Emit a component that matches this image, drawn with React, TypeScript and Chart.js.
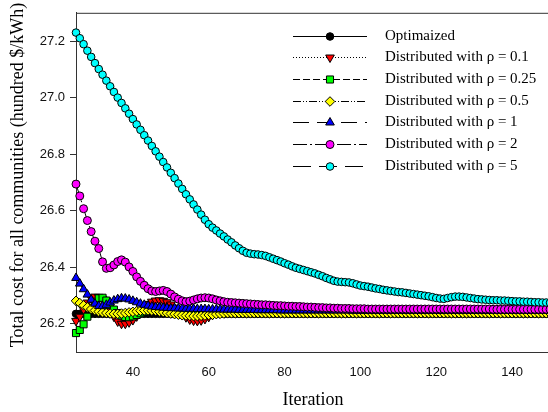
import React, { useEffect, useRef } from 'react';
import { Chart, registerables } from 'chart.js';
import { drawPoint } from 'chart.js/helpers';

Chart.register(...registerables);

// ---------------- data ----------------
const firstIteration = 25;

const optimized = [
  26.235, 26.235, 26.235, 26.235, 26.235, 26.235, 26.235, 26.235, 26.235, 26.235,
  26.235, 26.235, 26.235, 26.235, 26.235, 26.235, 26.235, 26.235, 26.235, 26.235,
  26.235, 26.235, 26.235, 26.235, 26.235, 26.235, 26.235, 26.235, 26.235, 26.235,
  26.235, 26.235, 26.235, 26.235, 26.235, 26.235, 26.235, 26.235, 26.235, 26.235,
  26.235, 26.235, 26.235, 26.235, 26.235, 26.235, 26.235, 26.235, 26.235, 26.235,
  26.235, 26.235, 26.235, 26.235, 26.235, 26.235, 26.235, 26.235, 26.235, 26.235,
  26.235, 26.235, 26.235, 26.235, 26.235, 26.235, 26.235, 26.235, 26.235, 26.235,
  26.235, 26.235, 26.235, 26.235, 26.235, 26.235, 26.235, 26.235, 26.235, 26.235,
  26.235, 26.235, 26.235, 26.235, 26.235, 26.235, 26.235, 26.235, 26.235, 26.235,
  26.235, 26.235, 26.235, 26.235, 26.235, 26.235, 26.235, 26.235, 26.235, 26.235,
  26.235, 26.235, 26.235, 26.235, 26.235, 26.235, 26.235, 26.235, 26.235, 26.235,
  26.235, 26.235, 26.235, 26.235, 26.235, 26.235, 26.235, 26.235, 26.235, 26.235,
  26.235, 26.235, 26.235, 26.235, 26.235, 26.235,
];

const rho01 = [
  26.210, 26.225, 26.250, 26.275, 26.290, 26.296, 26.295, 26.288, 26.270, 26.248,
  26.225, 26.208, 26.200, 26.200, 26.205, 26.213, 26.226, 26.242, 26.258, 26.270,
  26.278, 26.282, 26.283, 26.281, 26.276, 26.268, 26.257, 26.245, 26.233, 26.223,
  26.215, 26.211, 26.210, 26.212, 26.217, 26.224, 26.231, 26.237, 26.241, 26.244,
  26.245, 26.245, 26.244, 26.242, 26.240, 26.239, 26.238, 26.238, 26.238, 26.238,
  26.239, 26.239, 26.239, 26.239, 26.239, 26.239, 26.239, 26.239, 26.239, 26.239,
  26.239, 26.239, 26.239, 26.239, 26.239, 26.239, 26.239, 26.239, 26.239, 26.239,
  26.239, 26.239, 26.239, 26.239, 26.239, 26.239, 26.239, 26.239, 26.239, 26.239,
  26.239, 26.239, 26.239, 26.239, 26.239, 26.239, 26.239, 26.239, 26.239, 26.239,
  26.239, 26.239, 26.239, 26.239, 26.239, 26.239, 26.239, 26.239, 26.239, 26.239,
  26.239, 26.239, 26.239, 26.239, 26.239, 26.239, 26.239, 26.239, 26.239, 26.239,
  26.239, 26.239, 26.239, 26.239, 26.239, 26.239, 26.239, 26.239, 26.239, 26.239,
  26.239, 26.239, 26.239, 26.239, 26.239, 26.239,
];

const rho025 = [
  26.167, 26.178, 26.198, 26.225, 26.255, 26.278, 26.290, 26.292, 26.282, 26.266,
  26.250, 26.238, 26.229, 26.224, 26.223, 26.226, 26.231, 26.237, 26.243, 26.248,
  26.252, 26.254, 26.254, 26.252, 26.249, 26.246, 26.243, 26.240, 26.238, 26.236,
  26.235, 26.235, 26.236, 26.237, 26.238, 26.239, 26.240, 26.240, 26.241, 26.241,
  26.241, 26.241, 26.241, 26.241, 26.241, 26.241, 26.241, 26.241, 26.241, 26.241,
  26.241, 26.241, 26.241, 26.241, 26.241, 26.241, 26.241, 26.241, 26.241, 26.241,
  26.241, 26.241, 26.241, 26.241, 26.241, 26.241, 26.241, 26.241, 26.241, 26.241,
  26.241, 26.241, 26.241, 26.241, 26.241, 26.241, 26.241, 26.241, 26.241, 26.241,
  26.241, 26.241, 26.241, 26.241, 26.241, 26.241, 26.241, 26.241, 26.241, 26.241,
  26.241, 26.241, 26.241, 26.241, 26.241, 26.241, 26.241, 26.241, 26.241, 26.241,
  26.241, 26.241, 26.241, 26.241, 26.241, 26.241, 26.241, 26.241, 26.241, 26.241,
  26.241, 26.241, 26.241, 26.241, 26.241, 26.241, 26.241, 26.241, 26.241, 26.241,
  26.241, 26.241, 26.241, 26.241, 26.241, 26.241,
];

const rho05 = [
  26.281, 26.273, 26.265, 26.258, 26.252, 26.247, 26.243, 26.240, 26.238, 26.236,
  26.235, 26.235, 26.236, 26.238, 26.240, 26.242, 26.244, 26.246, 26.247, 26.247,
  26.246, 26.245, 26.243, 26.241, 26.238, 26.236, 26.234, 26.232, 26.230, 26.229,
  26.228, 26.227, 26.227, 26.228, 26.229, 26.231, 26.232, 26.234, 26.235, 26.236,
  26.237, 26.237, 26.237, 26.237, 26.237, 26.237, 26.237, 26.237, 26.237, 26.237,
  26.237, 26.237, 26.237, 26.237, 26.237, 26.237, 26.237, 26.237, 26.237, 26.237,
  26.237, 26.237, 26.237, 26.237, 26.237, 26.237, 26.237, 26.237, 26.237, 26.237,
  26.237, 26.237, 26.237, 26.237, 26.237, 26.237, 26.237, 26.237, 26.237, 26.237,
  26.237, 26.237, 26.237, 26.237, 26.237, 26.237, 26.237, 26.237, 26.237, 26.237,
  26.237, 26.237, 26.237, 26.237, 26.237, 26.237, 26.237, 26.237, 26.237, 26.237,
  26.237, 26.237, 26.237, 26.237, 26.237, 26.237, 26.237, 26.237, 26.237, 26.237,
  26.237, 26.237, 26.237, 26.237, 26.237, 26.237, 26.237, 26.237, 26.237, 26.237,
  26.237, 26.237, 26.237, 26.237, 26.237, 26.237,
];

const rho1 = [
  26.362, 26.342, 26.322, 26.303, 26.285, 26.271, 26.263, 26.262, 26.267, 26.275,
  26.282, 26.287, 26.290, 26.289, 26.286, 26.281, 26.276, 26.271, 26.267, 26.264,
  26.261, 26.259, 26.258, 26.257, 26.256, 26.255, 26.255, 26.254, 26.254, 26.253,
  26.253, 26.253, 26.252, 26.252, 26.252, 26.251, 26.251, 26.251, 26.251, 26.250,
  26.250, 26.250, 26.250, 26.249, 26.249, 26.249, 26.249, 26.249, 26.248, 26.248,
  26.248, 26.248, 26.248, 26.248, 26.247, 26.247, 26.247, 26.247, 26.247, 26.247,
  26.247, 26.247, 26.247, 26.247, 26.247, 26.247, 26.247, 26.247, 26.247, 26.247,
  26.247, 26.247, 26.247, 26.246, 26.246, 26.246, 26.246, 26.246, 26.246, 26.246,
  26.246, 26.246, 26.246, 26.246, 26.246, 26.246, 26.246, 26.246, 26.246, 26.246,
  26.246, 26.246, 26.246, 26.246, 26.246, 26.246, 26.246, 26.246, 26.246, 26.246,
  26.246, 26.246, 26.246, 26.246, 26.246, 26.246, 26.246, 26.246, 26.246, 26.246,
  26.246, 26.246, 26.246, 26.246, 26.246, 26.246, 26.246, 26.246, 26.246, 26.246,
  26.246, 26.246, 26.246, 26.246, 26.246, 26.246,
];

const rho2 = [
  26.694, 26.652, 26.607, 26.565, 26.526, 26.492, 26.466, 26.419, 26.396, 26.398,
  26.408, 26.420, 26.426, 26.418, 26.401, 26.385, 26.366, 26.350, 26.336, 26.324,
  26.316, 26.314, 26.316, 26.318, 26.314, 26.305, 26.295, 26.287, 26.281, 26.278,
  26.280, 26.284, 26.288, 26.291, 26.292, 26.291, 26.288, 26.284, 26.281, 26.278,
  26.276, 26.275, 26.274, 26.273, 26.272, 26.271, 26.270, 26.269, 26.268, 26.267,
  26.267, 26.266, 26.265, 26.264, 26.264, 26.263, 26.262, 26.262, 26.261, 26.261,
  26.260, 26.259, 26.259, 26.258, 26.257, 26.257, 26.256, 26.256, 26.255, 26.255,
  26.254, 26.254, 26.254, 26.253, 26.253, 26.253, 26.253, 26.252, 26.252, 26.252,
  26.252, 26.252, 26.252, 26.252, 26.252, 26.252, 26.252, 26.252, 26.252, 26.252,
  26.252, 26.252, 26.252, 26.252, 26.252, 26.252, 26.252, 26.252, 26.252, 26.252,
  26.252, 26.252, 26.252, 26.252, 26.252, 26.252, 26.252, 26.252, 26.252, 26.252,
  26.251, 26.251, 26.251, 26.251, 26.251, 26.251, 26.251, 26.251, 26.251, 26.251,
  26.251, 26.251, 26.251, 26.251, 26.251, 26.251,
];

const rho5 = [
  27.230, 27.210, 27.189, 27.166, 27.144, 27.122, 27.101, 27.081, 27.060, 27.040,
  27.020, 27.000, 26.981, 26.962, 26.943, 26.924, 26.905, 26.886, 26.867, 26.848,
  26.829, 26.810, 26.791, 26.772, 26.753, 26.734, 26.715, 26.696, 26.677, 26.658,
  26.640, 26.622, 26.604, 26.586, 26.568, 26.552, 26.540, 26.530, 26.519, 26.509,
  26.498, 26.488, 26.477, 26.467, 26.458, 26.451, 26.448, 26.446, 26.445, 26.443,
  26.440, 26.435, 26.430, 26.425, 26.420, 26.414, 26.409, 26.403, 26.398, 26.394,
  26.390, 26.386, 26.382, 26.378, 26.373, 26.368, 26.362, 26.357, 26.352, 26.349,
  26.348, 26.347, 26.346, 26.343, 26.339, 26.335, 26.333, 26.331, 26.328, 26.325,
  26.323, 26.320, 26.318, 26.316, 26.314, 26.312, 26.311, 26.309, 26.307, 26.305,
  26.303, 26.301, 26.299, 26.297, 26.294, 26.291, 26.289, 26.288, 26.291, 26.294,
  26.296, 26.296, 26.295, 26.293, 26.291, 26.289, 26.287, 26.286, 26.285, 26.284,
  26.283, 26.283, 26.282, 26.282, 26.281, 26.280, 26.279, 26.279, 26.278, 26.278,
  26.277, 26.276, 26.276, 26.275, 26.275, 26.274,
];

const seriesNames = [
  'Optimaized',
  'Distributed with ρ = 0.1',
  'Distributed with ρ = 0.25',
  'Distributed with ρ = 0.5',
  'Distributed with ρ = 1',
  'Distributed with ρ = 2',
  'Distributed with ρ = 5',
];
const seriesValues = [optimized, rho01, rho025, rho05, rho1, rho2, rho5];

const xTickValues = [40, 60, 80, 100, 120, 140];
const yTickValues = [26.2, 26.4, 26.6, 26.8, 27.0, 27.2];
const xTitle = 'Iteration';
const yTitle = 'Total cost for all communities (hundred $/kWh)';

// ---------------- styles ----------------
const seriesStyles = [
  { color: '#000000', pointStyle: 'circle', rotation: 0, radius: 3.8, dash: [] as number[] },
  { color: '#ff0000', pointStyle: 'triangle', rotation: 180, radius: 5, dash: [1, 2] },
  { color: '#00ff00', pointStyle: 'rect', rotation: 0, radius: 5, dash: [7, 3] },
  { color: '#ffff00', pointStyle: 'rectRot', rotation: 0, radius: 4.8, dash: [8, 2, 1, 2, 1, 2] },
  { color: '#0000ff', pointStyle: 'triangle', rotation: 0, radius: 5, dash: [16, 8] },
  { color: '#ff00ff', pointStyle: 'circle', rotation: 0, radius: 4, dash: [14, 3, 2, 3] },
  { color: '#00ffff', pointStyle: 'circle', rotation: 0, radius: 3.8, dash: [18, 8] },
];

const CANVAS_W = 556;
const CANVAS_H = 412;
const AXIS_COLOR = '#333333';

const legendPlugin = {
  id: 'customLegend',
  afterDraw(chart: any) {
    const ctx = chart.ctx as CanvasRenderingContext2D;
    const rowTop = 35.7;
    const rowGap = 21.67;
    const lineX0 = 293;
    const lineX1 = 367;
    const markerX = 330;
    const textX = 385;
    ctx.save();
    seriesNames.forEach((name, i) => {
      const st = seriesStyles[i];
      const y = Math.round(rowTop + i * rowGap) + 0.5;
      ctx.beginPath();
      ctx.setLineDash(st.dash);
      ctx.strokeStyle = '#000';
      ctx.lineWidth = 1;
      ctx.moveTo(lineX0, y);
      ctx.lineTo(lineX1, y);
      ctx.stroke();
      ctx.setLineDash([]);
      ctx.fillStyle = st.color;
      ctx.strokeStyle = '#000';
      ctx.lineWidth = 1;
      drawPoint(ctx, { pointStyle: st.pointStyle as any, radius: st.radius, rotation: st.rotation, borderWidth: 1 } as any, markerX, y);
      ctx.fillStyle = '#000';
      ctx.font = '15px "Liberation Serif"';
      ctx.textAlign = 'left';
      ctx.textBaseline = 'middle';
      ctx.fillText(name, textX, y);
    });
    ctx.restore();
  },
};

const framePlugin = {
  id: 'frame',
  beforeDatasetsDraw(chart: any) {
    const { ctx, chartArea } = chart;
    ctx.save();
    ctx.strokeStyle = AXIS_COLOR;
    ctx.lineWidth = 1;
    ctx.beginPath();
    ctx.moveTo(chartArea.left, chartArea.top + 0.5);
    ctx.lineTo(chartArea.right, chartArea.top + 0.5);
    ctx.lineTo(chartArea.right, chartArea.bottom);
    ctx.stroke();
    // y-axis title
    ctx.translate(18, 175);
    ctx.rotate(-Math.PI / 2);
    ctx.fillStyle = '#000';
    ctx.font = '18px "Liberation Serif"';
    ctx.textAlign = 'center';
    ctx.textBaseline = 'middle';
    ctx.fillText(yTitle, 0, 0);
    ctx.restore();
  },
};

export default function App() {
  const canvasRef = useRef<HTMLCanvasElement | null>(null);

  useEffect(() => {
    const canvas = canvasRef.current;
    if (!canvas) return;
    const datasets = seriesValues.map((vals, i) => {
      const st = seriesStyles[i];
      return {
        label: seriesNames[i],
        data: vals.map((v, k) => ({ x: firstIteration + k, y: v })),
        borderColor: '#000000',
        borderWidth: 1,
        borderDash: st.dash,
        backgroundColor: st.color,
        pointStyle: st.pointStyle,
        pointRotation: st.rotation,
        pointRadius: st.radius,
        pointBackgroundColor: st.color,
        pointBorderColor: '#000000',
        pointBorderWidth: 1,
        tension: 0,
        fill: false,
        clip: 10,
        order: seriesValues.length - 1 - i,
      };
    });

    const chart = new Chart(canvas, {
      type: 'line',
      data: { datasets: datasets as any },
      options: {
        responsive: false,
        animation: false,
        devicePixelRatio: 1,
        events: [],
        layout: { padding: { top: 11, right: 5, left: 0, bottom: 0 } },
        plugins: {
          legend: { display: false },
          tooltip: { enabled: false },
        },
        scales: {
          x: {
            type: 'linear',
            min: 25,
            max: 150,
            afterBuildTicks: (axis: any) => {
              axis.ticks = xTickValues.map((v) => ({ value: v }));
            },
            afterFit: (axis: any) => {
              axis.height = 60;
            },
            grid: { display: true, drawOnChartArea: false, drawTicks: false, color: 'rgba(0,0,0,0)' },
            border: { display: true, color: AXIS_COLOR, width: 1 },
            ticks: {
              padding: 13,
              color: '#111',
              font: { family: '"Liberation Sans", Arial, sans-serif', size: 13 },
              maxRotation: 0,
              autoSkip: false,
              callback: (v: any) => String(v),
            },
            title: {
              display: true,
              text: xTitle,
              color: '#000',
              font: { family: '"Liberation Serif", "Times New Roman", serif', size: 18 },
              padding: { top: 0, bottom: 1 },
            },
          },
          y: {
            type: 'linear',
            min: 26.1,
            max: 27.3,
            afterBuildTicks: (axis: any) => {
              axis.ticks = yTickValues.map((v) => ({ value: v }));
            },
            afterFit: (axis: any) => {
              axis.width = 76;
            },
            grid: { display: true, drawOnChartArea: false, drawTicks: true, tickLength: 6, color: AXIS_COLOR },
            border: { display: true, color: AXIS_COLOR, width: 1 },
            ticks: {
              padding: 5,
              color: '#111',
              font: { family: '"Liberation Sans", Arial, sans-serif', size: 13 },
              autoSkip: false,
              callback: (v: any) => Number(v).toFixed(1),
            },
            title: { display: false },
          },
        },
      },
      plugins: [framePlugin, legendPlugin],
    });

    return () => {
      chart.destroy();
    };
  }, []);

  return (
    <div
      style={{
        position: 'fixed',
        left: 0,
        top: 0,
        width: 548,
        height: 412,
        overflow: 'hidden',
        background: '#ffffff',
      }}
    >
      <canvas
        ref={canvasRef}
        width={CANVAS_W}
        height={CANVAS_H}
        style={{ display: 'block', width: CANVAS_W, height: CANVAS_H }}
      />
    </div>
  );
}
